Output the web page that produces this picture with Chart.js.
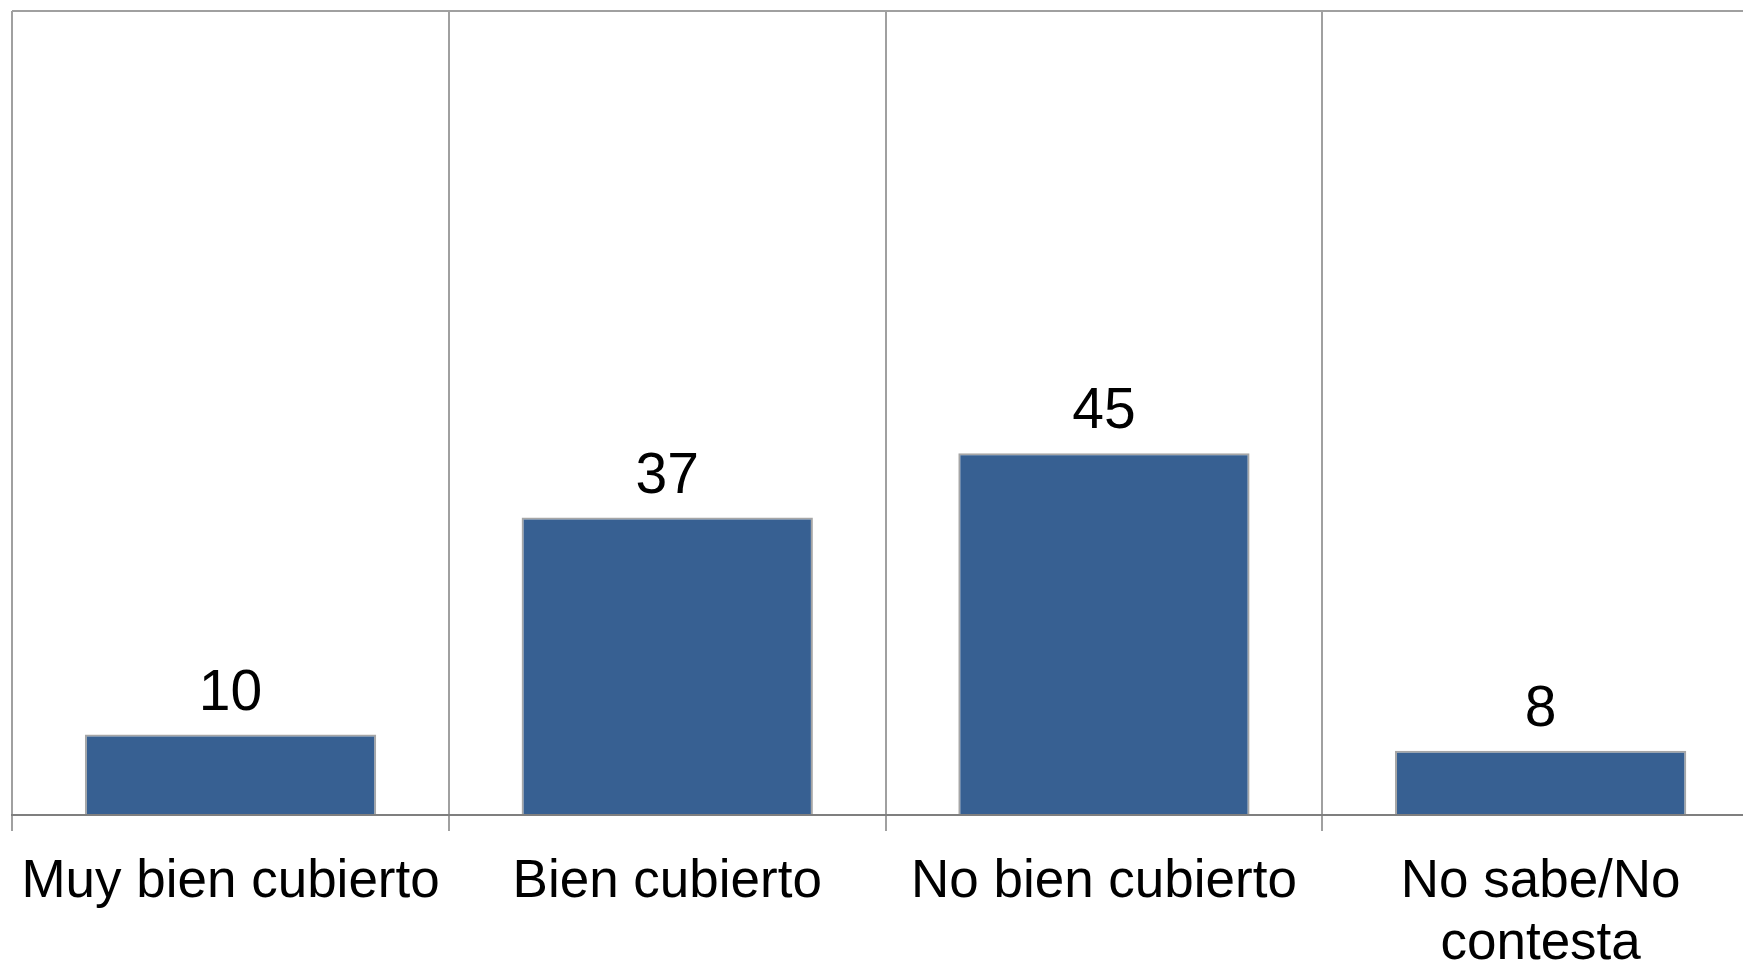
<!DOCTYPE html>
<html lang="es">
<head>
    <meta charset="UTF-8">
    <title>Cobertura</title>
    <style>
        html, body { margin: 0; padding: 0; overflow: hidden; background: #fff; }
        #wrap { width: 1760px; height: 962px; }
    </style>
    <script src="https://cdn.jsdelivr.net/npm/chart.js"></script>
</head>
<body>
    <div id="wrap"><canvas id="chart"></canvas></div>
    <script>
    // Daten
    const categories = ['Muy bien cubierto', 'Bien cubierto', 'No bien cubierto', ['No sabe/No', 'contesta']];
    const values = [10, 37, 45, 8];

    // Werte über den Balken
    const valueLabels = {
        id: 'valueLabels',
        afterDatasetsDraw(chart) {
            const ctx = chart.ctx;
            const meta = chart.getDatasetMeta(0);
            ctx.save();
            ctx.font = '57px "Liberation Sans", Arial, sans-serif';
            ctx.fillStyle = '#000';
            ctx.textAlign = 'center';
            ctx.textBaseline = 'alphabetic';
            meta.data.forEach((bar, i) => {
                ctx.fillText(String(values[i]), bar.x, bar.y - 25);
            });
            ctx.restore();
        }
    };

    new Chart(document.getElementById('chart'), {
        type: 'bar',
        data: {
            labels: categories,
            datasets: [{
                data: values,
                backgroundColor: '#376092',
                borderColor: '#a6a6a6',
                borderWidth: 2,
                barPercentage: 0.667,
                categoryPercentage: 1
            }]
        },
        options: {
            responsive: true,
            maintainAspectRatio: false,
            animation: false,
            layout: { padding: { left: 11, top: 11, right: 1, bottom: 0 } },
            plugins: {
                legend: { display: false },
                tooltip: { enabled: false }
            },
            scales: {
                x: {
                    grid: {
                        offset: true,
                        color: '#a0a0a0',
                        lineWidth: 2,
                        tickLength: 16
                    },
                    border: { color: '#7f7f7f', width: 2 },
                    ticks: {
                        color: '#000',
                        padding: 20,
                        font: { family: '"Liberation Sans", Arial, sans-serif', size: 53, lineHeight: 1.18 }
                    },
                    afterFit(scale) { scale.height = 147; }
                },
                y: {
                    min: 0,
                    max: 100,
                    ticks: { display: false, stepSize: 100 },
                    grid: {
                        drawTicks: false,
                        lineWidth: 2,
                        color: c => c.tick && c.tick.value === 100 ? '#a0a0a0' : 'rgba(0,0,0,0)'
                    },
                    border: { display: false }
                }
            }
        },
        plugins: [valueLabels]
    });
    </script>
</body>
</html>
